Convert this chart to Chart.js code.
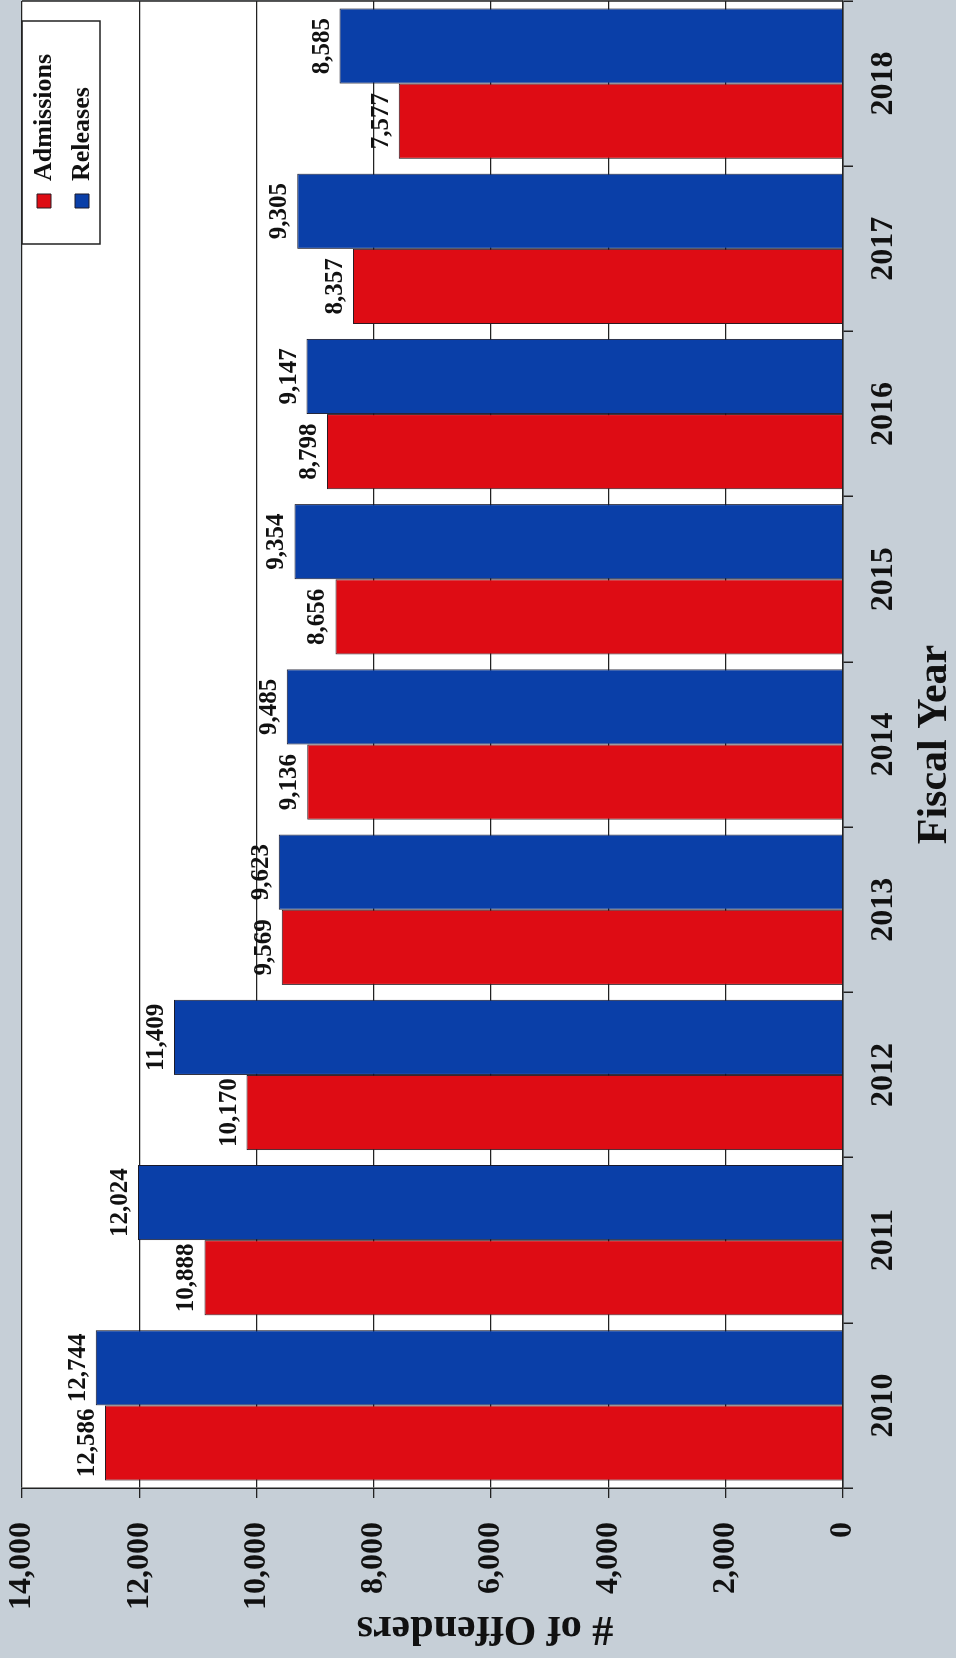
<!DOCTYPE html>
<html>
<head>
<meta charset="utf-8">
<script src="https://cdn.jsdelivr.net/npm/chart.js@4.4.1/dist/chart.umd.min.js"></script>
<style>
  html, body { margin: 0; padding: 0; background: #c6cfd7; overflow: hidden; }
  /* the chart is drawn upright, then turned a quarter to the left like the scan */
  #wrap {
    position: absolute; left: 0; top: 0;
    width: 1658px; height: 956px;
    transform-origin: 0 0;
    transform: translateY(1658px) rotate(-90deg);
  }
</style>
</head>
<body>
<div id="wrap"><canvas id="offendersChart" width="1658" height="956"></canvas></div>
<script>
const fiscalYears = ['2010', '2011', '2012', '2013', '2014', '2015', '2016', '2017', '2018'];
const admissions = [12586, 10888, 10170, 9569, 9136, 8656, 8798, 8357, 7577];
const releases = [12744, 12024, 11409, 9623, 9485, 9354, 9147, 9305, 8585];
const valueTicks = [0, 2000, 4000, 6000, 8000, 10000, 12000, 14000];

const serif = '"Liberation Serif", "Times New Roman", serif';
const ink = '#111111';
const lineColor = '#222222';

// white plot area + right-hand frame line
const plotFrame = {
    id: 'plotFrame',
    beforeDraw(chart) {
        const a = chart.chartArea;
        const ctx = chart.ctx;
        ctx.save();
        ctx.fillStyle = '#ffffff';
        ctx.fillRect(a.left, a.top, a.right - a.left, a.bottom - a.top);
        ctx.restore();
    },
    afterDatasetsDraw(chart) {
        const a = chart.chartArea;
        const ctx = chart.ctx;
        ctx.save();
        ctx.strokeStyle = lineColor;
        ctx.lineWidth = 1.5;
        ctx.beginPath();
        ctx.moveTo(a.right, a.top);
        ctx.lineTo(a.right, a.bottom);
        ctx.stroke();
        ctx.restore();
    }
};

// numbers printed above each bar
const barValues = {
    id: 'barValues',
    afterDatasetsDraw(chart) {
        const ctx = chart.ctx;
        ctx.save();
        ctx.font = 'bold 25px ' + serif;
        ctx.fillStyle = ink;
        ctx.textAlign = 'center';
        ctx.textBaseline = 'alphabetic';
        chart.data.datasets.forEach((ds, i) => {
            chart.getDatasetMeta(i).data.forEach((bar, j) => {
                ctx.fillText(ds.data[j].toLocaleString('en-US'), bar.x, bar.y - 11);
            });
        });
        ctx.restore();
    }
};

// move the legend to the top right corner of the plot and box it
const legendBox = {
    id: 'legendBox',
    afterLayout(chart) {
        const lg = chart.legend;
        const a = chart.chartArea;
        lg.left = a.right - 219;
        lg.right = lg.left + lg.width;
        lg.top = a.top - 3;
    },
    afterDraw(chart) {
        const lg = chart.legend;
        const ctx = chart.ctx;
        ctx.save();
        ctx.strokeStyle = lineColor;
        ctx.lineWidth = 1.5;
        ctx.strokeRect(lg.left - 24, lg.top + 3, 223, 78);
        ctx.restore();
    }
};

const ctx = document.getElementById('offendersChart').getContext('2d');

const offendersChart = new Chart(ctx, {
    type: 'bar',
    data: {
        labels: fiscalYears,
        datasets: [
            {
                label: 'Admissions',
                data: admissions,
                backgroundColor: '#de0c14',
                borderColor: '#2a1a22',
                borderWidth: 1
            },
            {
                label: 'Releases',
                data: releases,
                backgroundColor: '#0a3fa8',
                borderColor: '#1a1a2a',
                borderWidth: 1
            }
        ]
    },
    options: {
        responsive: false,
        animation: false,
        devicePixelRatio: 1,
        categoryPercentage: 0.91,
        barPercentage: 1.0,
        layout: {
            padding: { top: 22, right: 1, left: 0, bottom: 0 }
        },
        scales: {
            x: {
                afterFit: scale => { scale.height = 113; },
                grid: {
                    display: true,
                    drawOnChartArea: false,
                    drawTicks: true,
                    tickLength: 10,
                    offset: true,
                    color: lineColor,
                    lineWidth: 1.5
                },
                border: { display: true, color: lineColor, width: 1.5 },
                ticks: {
                    color: ink,
                    padding: 12,
                    maxRotation: 0,
                    font: { family: serif, size: 32, weight: 'bold' }
                },
                title: {
                    display: true,
                    text: 'Fiscal Year',
                    color: ink,
                    padding: { top: 0, bottom: 0 },
                    font: { family: serif, size: 42, weight: 'bold', lineHeight: 1 }
                }
            },
            y: {
                min: 0,
                max: 14000,
                afterFit: scale => {
                    scale.width = 170;
                    scale.paddingTop = 0;
                    scale.paddingBottom = 0;
                },
                afterBuildTicks: scale => { scale.ticks = valueTicks.map(v => ({ value: v })); },
                grid: {
                    color: lineColor,
                    lineWidth: 1.3,
                    tickLength: 10
                },
                border: { display: true, color: lineColor, width: 1.5 },
                ticks: {
                    color: ink,
                    padding: 24,
                    font: { family: serif, size: 32, weight: 'bold' },
                    callback: v => v.toLocaleString('en-US')
                },
                title: {
                    display: true,
                    // trailing spaces push the title off-centre, as in the original
                    text: '# of Offenders\u00a0\u00a0\u00a0\u00a0\u00a0\u00a0\u00a0\u00a0\u00a0\u00a0',
                    color: ink,
                    padding: { top: 9, bottom: 0 },
                    font: { family: serif, size: 42, weight: 'bold', lineHeight: 1 }
                }
            }
        },
        plugins: {
            legend: {
                position: 'chartArea',
                align: 'start',
                labels: {
                    color: ink,
                    boxWidth: 14,
                    boxHeight: 14,
                    padding: 12,
                    font: { family: serif, size: 26, weight: 'bold' }
                }
            },
            tooltip: { enabled: false }
        }
    },
    plugins: [plotFrame, barValues, legendBox]
});
</script>
</body>
</html>
